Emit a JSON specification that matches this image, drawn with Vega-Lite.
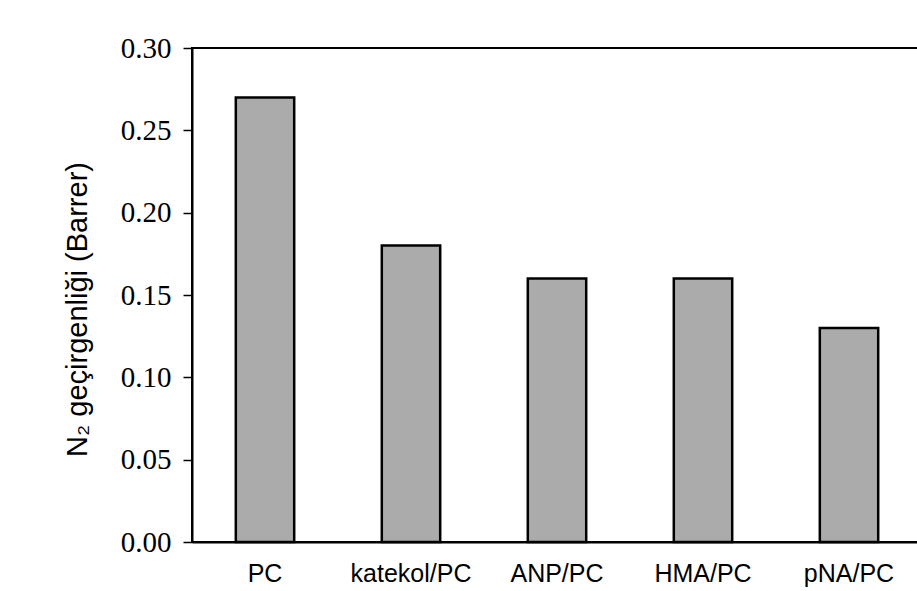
{
  "$schema": "https://vega.github.io/schema/vega-lite/v6.json",
  "autosize": "none",
  "width": 730,
  "height": 494,
  "padding": {"left": 192, "top": 48, "right": 0, "bottom": 49},
  "background": "white",
  "config": {
    "view": {"stroke": "black", "strokeWidth": 2},
    "axis": {"grid": false}
  },
  "data": {
    "values": [
      {"sample": "PC", "permeability": 0.27},
      {"sample": "katekol/PC", "permeability": 0.18},
      {"sample": "ANP/PC", "permeability": 0.16},
      {"sample": "HMA/PC", "permeability": 0.16},
      {"sample": "pNA/PC", "permeability": 0.13}
    ]
  },
  "mark": {"type": "bar", "fill": "#ababab", "stroke": "black", "strokeWidth": 2.5},
  "encoding": {
    "x": {
      "field": "sample",
      "type": "nominal",
      "sort": null,
      "scale": {"paddingInner": 0.6, "paddingOuter": 0.3},
      "axis": {
        "title": null,
        "labelAngle": 0,
        "ticks": false,
        "domainColor": "black",
        "domainWidth": 2,
        "labelFont": "Liberation Sans",
        "labelFontSize": 25,
        "labelColor": "black",
        "labelPadding": 19
      }
    },
    "y": {
      "field": "permeability",
      "type": "quantitative",
      "scale": {"domain": [0, 0.3], "nice": false, "zero": true},
      "axis": {
        "title": "N₂ geçirgenliği (Barrer)",
        "values": [0, 0.05, 0.1, 0.15, 0.2, 0.25, 0.3],
        "format": ".2f",
        "domainColor": "black",
        "domainWidth": 2,
        "tickColor": "black",
        "tickWidth": 1.5,
        "tickSize": 9,
        "labelFont": "Liberation Serif",
        "labelFontSize": 29,
        "labelColor": "black",
        "labelPadding": 12,
        "titleFont": "Liberation Sans",
        "titleFontSize": 29,
        "titleFontWeight": "normal",
        "titleColor": "black",
        "titleAngle": -90,
        "titleAlign": "center",
        "titleBaseline": "alphabetic",
        "titleX": -106,
        "titleY": 261
      }
    }
  }
}
